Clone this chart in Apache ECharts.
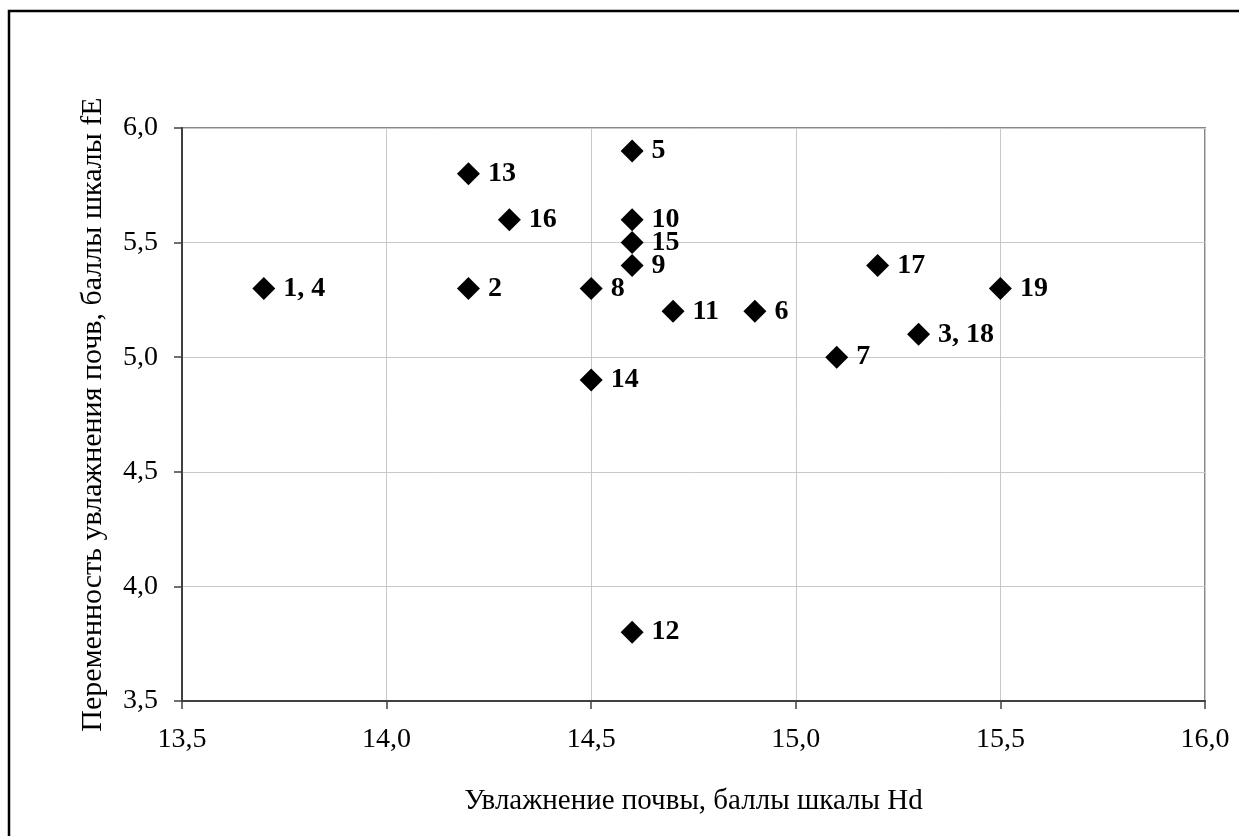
<!DOCTYPE html>
<html>
<head>
<meta charset="utf-8">
<script src="https://cdn.jsdelivr.net/npm/echarts@6/dist/echarts.min.js"></script>
<style>
html,body{margin:0;padding:0;background:#fff;}
#c{width:1239px;height:836px;}
</style>
</head>
<body>
<div id="c"></div>
<script>
// Data
var pointLabels = ['1, 4','2','3, 18','5','6','7','8','9','10','11','12','13','14','15','16','17','19'];
var xValues     = [13.7, 14.2, 15.3, 14.6, 14.9, 15.1, 14.5, 14.6, 14.6, 14.7, 14.6, 14.2, 14.5, 14.6, 14.3, 15.2, 15.5];
var yValues     = [5.3,  5.3,  5.1,  5.9,  5.2,  5.0,  5.3,  5.4,  5.6,  5.2,  3.8,  5.8,  4.9,  5.5,  5.6,  5.4,  5.3];
var xAxisTitle = 'Увлажнение почвы, баллы шкалы Hd';
var yAxisTitle = 'Переменность увлажнения почв, баллы шкалы fE';

var FONT = "'Liberation Serif','Times New Roman',serif";
var seriesData = xValues.map(function(x,i){ return {value:[x, yValues[i]], name:pointLabels[i]}; });
function fmt(v){ return v.toFixed(1).replace('.', ','); }

var chart = echarts.init(document.getElementById('c'), null, {renderer:'canvas'});
chart.setOption({
  animation:false,
  backgroundColor:'#ffffff',
  grid:{left:182, right:34, top:128, bottom:135, show:true, borderColor:'#888888', borderWidth:2, backgroundColor:'transparent'},
  graphic:[{type:'rect', shape:{x:9, y:11, width:1300, height:900}, style:{fill:'none', stroke:'#000', lineWidth:2.5}, silent:true, z:100}],
  xAxis:{
    type:'value', min:13.5, max:16.0, interval:0.5,
    name:xAxisTitle, nameLocation:'middle', nameGap:86,
    nameTextStyle:{fontFamily:FONT, fontSize:29, color:'#000'},
    axisLine:{show:true, onZero:false, lineStyle:{color:'#404040', width:2}},
    axisTick:{show:true, inside:false, length:8, lineStyle:{color:'#404040', width:1.5}},
    axisLabel:{formatter:fmt, fontFamily:FONT, fontSize:28, color:'#000', margin:25},
    splitLine:{show:true, lineStyle:{color:'#c8c8c8', width:1}}
  },
  yAxis:{
    type:'value', min:3.5, max:6.0, interval:0.5,
    name:yAxisTitle, nameLocation:'middle', nameGap:74, nameRotate:90,
    nameTextStyle:{fontFamily:FONT, fontSize:30, color:'#000'},
    axisLine:{show:true, onZero:false, lineStyle:{color:'#404040', width:2}},
    axisTick:{show:true, inside:false, length:8, lineStyle:{color:'#404040', width:1.5}},
    axisLabel:{formatter:fmt, fontFamily:FONT, fontSize:28, color:'#000', margin:24},
    splitLine:{show:true, lineStyle:{color:'#c8c8c8', width:1}}
  },
  series:[{
    type:'scatter',
    symbol:'diamond', symbolSize:23,
    itemStyle:{color:'#000', opacity:1},
    data:seriesData,
    label:{show:true, position:'right', distance:8, formatter:function(p){return p.name;},
      fontFamily:FONT, fontSize:28, fontWeight:'bold', color:'#000'},
    labelLayout:{hideOverlap:false}
  }]
});
</script>
</body>
</html>
